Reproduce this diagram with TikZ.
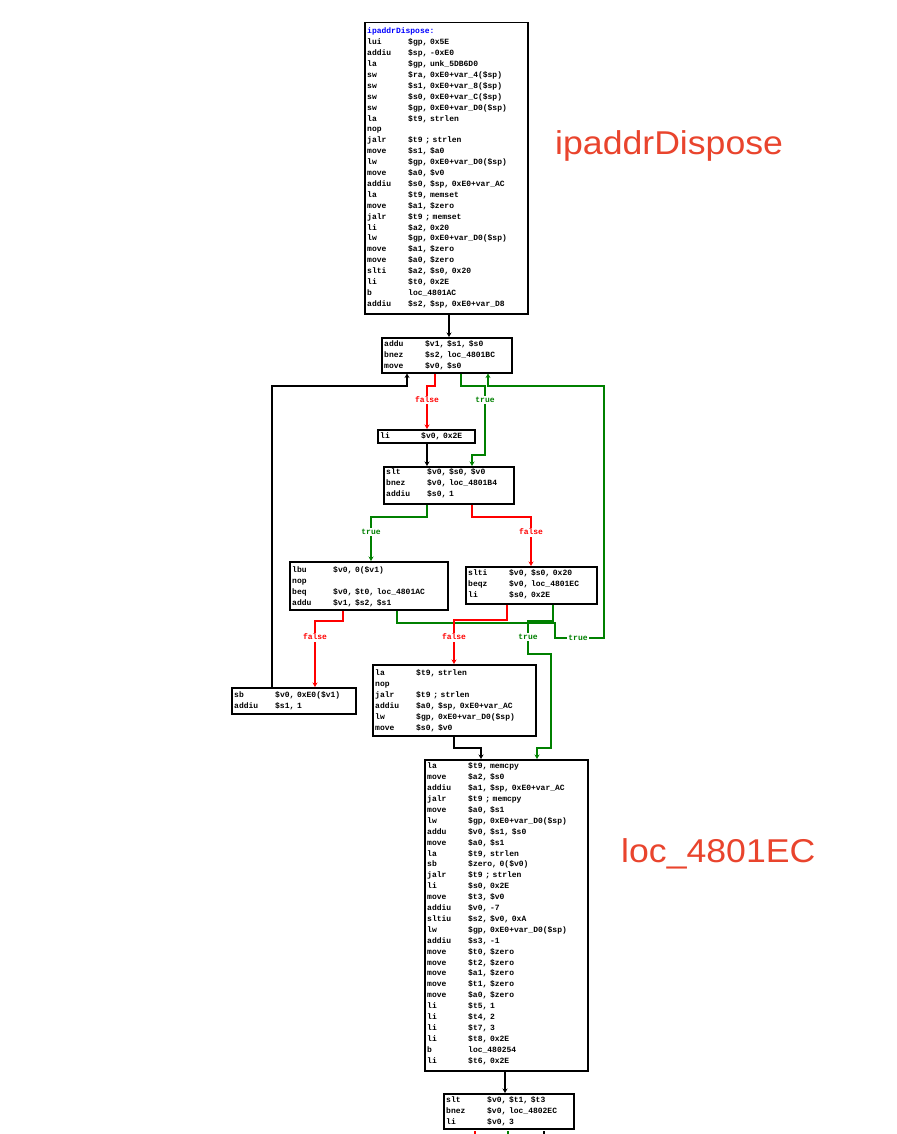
\documentclass[tikz,border=0pt]{standalone}
\usepackage{fontspec}
\setmainfont{Liberation Sans}
\newfontfamily\codemono{Liberation Mono}
\newfontfamily\lblfont[FakeStretch=1.08]{Liberation Sans}
\usetikzlibrary{arrows.meta}
\definecolor{idagreen}{RGB}{0,128,0}
\definecolor{idared}{RGB}{255,0,0}
\definecolor{idablue}{RGB}{0,0,255}
\definecolor{titlered}{RGB}{233,68,45}
\newcommand\codefont{\codemono\bfseries\fontsize{8}{10.9}\selectfont}
\newcommand\I[2]{\makebox[41pt][l]{#1}#2}
\begin{document}
\begin{tikzpicture}[x=1pt,y=-1pt,
  blk/.style={draw, line width=1.5pt, inner sep=0pt, anchor=north west},
  codetxt/.style={anchor=north west, inner sep=0pt, align=left, font=\codefont},
  conn/.style={line width=1.5pt, -{Stealth[length=4.5pt,width=5pt]}},
  narr/.style={conn, black},
  tarr/.style={conn, idagreen},
  farr/.style={conn, idared},
  tlbl/.style={fill=white, text=idagreen, inner sep=1.5pt, font=\codemono\bfseries\fontsize{8}{9}\selectfont},
  flbl/.style={fill=white, text=idared, inner sep=1.5pt, font=\codemono\bfseries\fontsize{8}{9}\selectfont},
  bigname/.style={anchor=base west, inner sep=0pt, text=titlered, font=\lblfont\fontsize{33}{38}\selectfont}
]
\useasboundingbox (0,0) rectangle (896,1134);

% boxes
\node[blk, minimum width=163pt, minimum height=291pt] (b1) at (364,22) {};
\node[blk, minimum width=130pt, minimum height=35pt] (b2) at (381,337) {};
\node[blk, minimum width=97pt, minimum height=13pt] (b3) at (377,429) {};
\node[blk, minimum width=130pt, minimum height=37pt] (b4) at (383,466) {};
\node[blk, minimum width=158pt, minimum height=48pt] (b5) at (289,561) {};
\node[blk, minimum width=131pt, minimum height=37pt] (b6) at (465,566) {};
\node[blk, minimum width=124pt, minimum height=26pt] (b7) at (231,687) {};
\node[blk, minimum width=163pt, minimum height=71pt] (b8) at (372,664) {};
\node[blk, minimum width=163pt, minimum height=311pt] (b9) at (424,759) {};
\node[blk, minimum width=130pt, minimum height=35pt] (b10) at (443,1093) {};

% code
\node[codetxt, text width=160pt] (t1) at (367,26) {\strut\textcolor{idablue}{ipaddrDispose:}\\
\I{lui}{\$gp, 0x5E}\\
\I{addiu}{\$sp, -0xE0}\\
\I{la}{\$gp, unk\_5DB6D0}\\
\I{sw}{\$ra, 0xE0+var\_4(\$sp)}\\
\I{sw}{\$s1, 0xE0+var\_8(\$sp)}\\
\I{sw}{\$s0, 0xE0+var\_C(\$sp)}\\
\I{sw}{\$gp, 0xE0+var\_D0(\$sp)}\\
\I{la}{\$t9, strlen}\\
nop\\
\I{jalr}{\$t9 ; strlen}\\
\I{move}{\$s1, \$a0}\\
\I{lw}{\$gp, 0xE0+var\_D0(\$sp)}\\
\I{move}{\$a0, \$v0}\\
\I{addiu}{\$s0, \$sp, 0xE0+var\_AC}\\
\I{la}{\$t9, memset}\\
\I{move}{\$a1, \$zero}\\
\I{jalr}{\$t9 ; memset}\\
\I{li}{\$a2, 0x20}\\
\I{lw}{\$gp, 0xE0+var\_D0(\$sp)}\\
\I{move}{\$a1, \$zero}\\
\I{move}{\$a0, \$zero}\\
\I{slti}{\$a2, \$s0, 0x20}\\
\I{li}{\$t0, 0x2E}\\
\I{b}{loc\_4801AC}\\
\I{addiu}{\$s2, \$sp, 0xE0+var\_D8}};

\node[codetxt, text width=128pt] (t2) at (384,338.5) {\strut\I{addu}{\$v1, \$s1, \$s0}\\
\I{bnez}{\$s2, loc\_4801BC}\\
\I{move}{\$v0, \$s0}};

\node[codetxt, text width=95pt] (t3) at (380,431) {\strut\I{li}{\$v0, 0x2E}};

\node[codetxt, text width=128pt] (t4) at (386,466.5) {\strut\I{slt}{\$v0, \$s0, \$v0}\\
\I{bnez}{\$v0, loc\_4801B4}\\
\I{addiu}{\$s0, 1}};

\node[codetxt, text width=156pt] (t5) at (292,564.5) {\strut\I{lbu}{\$v0, 0(\$v1)}\\
nop\\
\I{beq}{\$v0, \$t0, loc\_4801AC}\\
\I{addu}{\$v1, \$s2, \$s1}};

\node[codetxt, text width=129pt] (t6) at (468,568) {\strut\I{slti}{\$v0, \$s0, 0x20}\\
\I{beqz}{\$v0, loc\_4801EC}\\
\I{li}{\$s0, 0x2E}};

\node[codetxt, text width=122pt] (t7) at (234,689.5) {\strut\I{sb}{\$v0, 0xE0(\$v1)}\\
\I{addiu}{\$s1, 1}};

\node[codetxt, text width=161pt] (t8) at (375,668) {\strut\I{la}{\$t9, strlen}\\
nop\\
\I{jalr}{\$t9 ; strlen}\\
\I{addiu}{\$a0, \$sp, 0xE0+var\_AC}\\
\I{lw}{\$gp, 0xE0+var\_D0(\$sp)}\\
\I{move}{\$s0, \$v0}};

\node[codetxt, text width=161pt] (t9) at (427,761) {\strut\I{la}{\$t9, memcpy}\\
\I{move}{\$a2, \$s0}\\
\I{addiu}{\$a1, \$sp, 0xE0+var\_AC}\\
\I{jalr}{\$t9 ; memcpy}\\
\I{move}{\$a0, \$s1}\\
\I{lw}{\$gp, 0xE0+var\_D0(\$sp)}\\
\I{addu}{\$v0, \$s1, \$s0}\\
\I{move}{\$a0, \$s1}\\
\I{la}{\$t9, strlen}\\
\I{sb}{\$zero, 0(\$v0)}\\
\I{jalr}{\$t9 ; strlen}\\
\I{li}{\$s0, 0x2E}\\
\I{move}{\$t3, \$v0}\\
\I{addiu}{\$v0, -7}\\
\I{sltiu}{\$s2, \$v0, 0xA}\\
\I{lw}{\$gp, 0xE0+var\_D0(\$sp)}\\
\I{addiu}{\$s3, -1}\\
\I{move}{\$t0, \$zero}\\
\I{move}{\$t2, \$zero}\\
\I{move}{\$a1, \$zero}\\
\I{move}{\$t1, \$zero}\\
\I{move}{\$a0, \$zero}\\
\I{li}{\$t5, 1}\\
\I{li}{\$t4, 2}\\
\I{li}{\$t7, 3}\\
\I{li}{\$t8, 0x2E}\\
\I{b}{loc\_480254}\\
\I{li}{\$t6, 0x2E}};

\node[codetxt, text width=128pt] (t10) at (446,1094.7) {\strut\I{slt}{\$v0, \$t1, \$t3}\\
\I{bnez}{\$v0, loc\_4802EC}\\
\I{li}{\$v0, 3}};

% connectors
\draw[narr] (449,0 |- b1.south) -- (449,0 |- b2.north);
\draw[farr] (435,0 |- b2.south) -- (435,386) -- (427,386) -- (427,0 |- b3.north);
\draw[tarr] (461,0 |- b2.south) -- (461,386) -- (485,386) -- (485,455) -- (472,455) -- (472,0 |- b4.north);
\draw[narr] (427,0 |- b3.south) -- (427,0 |- b4.north);
\draw[tarr] (427,0 |- b4.south) -- (427,517) -- (371,517) -- (371,0 |- b5.north);
\draw[farr] (472,0 |- b4.south) -- (472,517) -- (531,517) -- (531,0 |- b6.north);
\draw[farr] (343,0 |- b5.south) -- (343,621) -- (315,621) -- (315,0 |- b7.north);
\draw[tarr] (397,0 |- b5.south) -- (397,623) -- (555,623) -- (555,638) -- (604,638) -- (604,386) -- (488,386) -- (488,0 |- b2.south);
\draw[farr] (507,0 |- b6.south) -- (507,620) -- (454,620) -- (454,0 |- b8.north);
\draw[tarr] (553,0 |- b6.south) -- (553,621) -- (528,621) -- (528,654) -- (551,654) -- (551,748) -- (537,748) -- (537,0 |- b9.north);
\draw[narr] (272,0 |- b7.north) -- (272,386) -- (407,386) -- (407,0 |- b2.south);
\draw[narr] (454,0 |- b8.south) -- (454,748) -- (481,748) -- (481,0 |- b9.north);
\draw[narr] (505,0 |- b9.south) -- (505,0 |- b10.north);

% stubs at the bottom edge
\coordinate (s1) at (475,1131);
\coordinate (s2) at (508,1131);
\coordinate (s3) at (544,1131);
\draw[idared, line width=1.5pt] (s1) -- ++(0,3);
\draw[idagreen, line width=1.5pt] (s2) -- ++(0,3);
\draw[black, line width=1.5pt] (s3) -- ++(0,3);

% edge labels
\node[flbl] (lf1) at (427,400) {false};
\node[tlbl] (lt1) at (485,400) {true};
\node[tlbl] (lt2) at (371,532) {true};
\node[flbl] (lf2) at (531,532) {false};
\node[flbl] (lf3) at (315,637) {false};
\node[flbl] (lf4) at (454,637) {false};
\node[tlbl] (lt3) at (528,637) {true};
\node[tlbl] (lt4) at (578,638) {true};

% titles
\node[bigname] (n1) at (555,155) {ipaddrDispose};
\node[bigname] (n2) at (621,862) {loc\_4801EC};
\end{tikzpicture}
\end{document}
